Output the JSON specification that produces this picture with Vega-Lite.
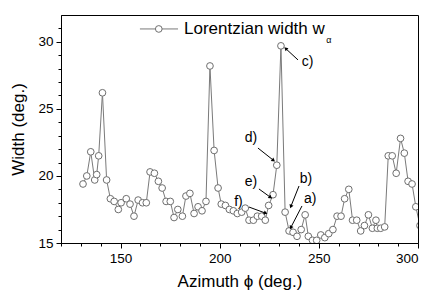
{
  "$schema": "https://vega.github.io/schema/vega-lite/v6.json",
  "width": 357,
  "height": 228,
  "autosize": "none",
  "padding": {"left": 61, "top": 15, "right": 18, "bottom": 62},
  "config": {
    "view": {"stroke": "black", "strokeWidth": 1},
    "font": "Liberation Sans",
    "axis": {"grid": false, "domainColor": "black", "tickColor": "black", "labelColor": "black", "titleColor": "black", "titleFontWeight": "normal", "labelFont": "Liberation Sans", "titleFont": "Liberation Sans"}
  },
  "datasets": {
    "width": [
      {"az": 131.1, "w": 19.4}, {"az": 133.0, "w": 20.0}, {"az": 135.0, "w": 21.8}, {"az": 137.0, "w": 19.7},
      {"az": 138.0, "w": 20.1}, {"az": 139.0, "w": 21.5}, {"az": 140.9, "w": 26.2}, {"az": 143.0, "w": 19.7},
      {"az": 144.9, "w": 18.3}, {"az": 146.8, "w": 18.1}, {"az": 148.9, "w": 17.5}, {"az": 150.3, "w": 18.0},
      {"az": 152.9, "w": 18.3}, {"az": 154.8, "w": 17.9}, {"az": 156.8, "w": 17.0}, {"az": 158.9, "w": 18.2},
      {"az": 161.1, "w": 18.0}, {"az": 163.0, "w": 18.0}, {"az": 164.9, "w": 20.3}, {"az": 167.1, "w": 20.2},
      {"az": 169.1, "w": 19.6}, {"az": 171.0, "w": 19.1}, {"az": 173.0, "w": 18.1}, {"az": 175.1, "w": 18.1},
      {"az": 177.0, "w": 16.9}, {"az": 178.9, "w": 17.5}, {"az": 181.2, "w": 17.0}, {"az": 183.0, "w": 18.5},
      {"az": 185.0, "w": 18.7}, {"az": 187.1, "w": 17.2}, {"az": 189.1, "w": 17.7}, {"az": 191.1, "w": 17.4},
      {"az": 193.1, "w": 18.1}, {"az": 195.1, "w": 28.2}, {"az": 197.2, "w": 21.9}, {"az": 199.2, "w": 19.1},
      {"az": 200.8, "w": 17.9}, {"az": 202.9, "w": 17.8}, {"az": 204.9, "w": 17.5}, {"az": 206.9, "w": 17.4},
      {"az": 208.9, "w": 17.2}, {"az": 211.1, "w": 17.3}, {"az": 212.9, "w": 17.6}, {"az": 214.8, "w": 16.7},
      {"az": 217.0, "w": 16.7}, {"az": 219.0, "w": 17.0}, {"az": 221.2, "w": 17.0}, {"az": 223.0, "w": 16.7},
      {"az": 224.7, "w": 17.8}, {"az": 226.9, "w": 18.6}, {"az": 228.8, "w": 20.8}, {"az": 230.9, "w": 29.7},
      {"az": 233.0, "w": 17.3}, {"az": 235.0, "w": 15.9}, {"az": 237.0, "w": 15.8}, {"az": 239.0, "w": 15.5},
      {"az": 241.1, "w": 16.0}, {"az": 243.1, "w": 17.1}, {"az": 244.7, "w": 15.5}, {"az": 246.8, "w": 15.2},
      {"az": 248.9, "w": 15.2}, {"az": 251.0, "w": 15.6}, {"az": 253.0, "w": 15.4}, {"az": 255.0, "w": 15.7},
      {"az": 257.1, "w": 16.0}, {"az": 259.2, "w": 17.0}, {"az": 261.2, "w": 17.0}, {"az": 263.0, "w": 18.3},
      {"az": 265.1, "w": 19.0}, {"az": 267.0, "w": 16.7}, {"az": 269.1, "w": 16.7}, {"az": 271.1, "w": 15.9},
      {"az": 273.0, "w": 16.3}, {"az": 275.0, "w": 17.1}, {"az": 277.0, "w": 16.1}, {"az": 278.8, "w": 16.7},
      {"az": 279.5, "w": 16.1}, {"az": 281.2, "w": 16.1}, {"az": 283.2, "w": 16.2}, {"az": 285.0, "w": 21.5},
      {"az": 287.0, "w": 21.5}, {"az": 289.0, "w": 20.2}, {"az": 291.2, "w": 22.8}, {"az": 293.1, "w": 21.7},
      {"az": 295.0, "w": 19.6}, {"az": 297.0, "w": 19.4}, {"az": 298.9, "w": 17.7}, {"az": 301.0, "w": 16.3}
    ],
    "notes": [
      {"label": "a)", "tx": 245.6, "ty": 18.28, "ax": 241.5, "ay": 17.76, "bx": 236.0, "by": 16.19},
      {"label": "b)", "tx": 243.5, "ty": 19.77, "ax": 240.0, "ay": 19.25, "bx": 236.0, "by": 17.76},
      {"label": "c)", "tx": 244.3, "ty": 28.5, "ax": 239.5, "ay": 28.65, "bx": 233.5, "by": 29.47},
      {"label": "d)", "tx": 215.8, "ty": 22.83, "ax": 219.3, "ay": 22.08, "bx": 226.9, "by": 21.19},
      {"label": "e)", "tx": 215.8, "ty": 19.55, "ax": 219.8, "ay": 19.03, "bx": 225.4, "by": 18.43},
      {"label": "f)", "tx": 209.5, "ty": 18.06, "ax": 214.8, "ay": 17.68, "bx": 222.9, "by": 17.24}
    ],
    "legendLine": [{"x": 159.8, "x2": 179.0, "y": 30.96}],
    "legendPoint": [{"x": 169.3, "y": 30.96}],
    "legendText": [{"x": 182.0, "y": 30.96, "t": "Lorentzian width w"}],
    "legendSub": [{"x": 253.8, "y": 30.1, "t": "α"}]
  },
  "resolve": {"axis": {"x": "independent", "y": "independent"}},
  "layer": [
    {
      "data": {"name": "width"},
      "mark": {"type": "line", "color": "#7a7a7a", "strokeWidth": 1, "clip": true},
      "encoding": {
        "x": {"field": "az", "type": "quantitative", "scale": {"domain": [120, 300], "nice": false, "zero": false},
              "axis": {"orient": "bottom", "values": [150, 200, 250, 300], "tickSize": 5, "labelFontSize": 13.5, "labelPadding": 3, "title": "Azimuth ϕ (deg.)", "titleFontSize": 17, "titlePadding": 9}},
        "y": {"field": "w", "type": "quantitative", "scale": {"domain": [15, 32], "nice": false, "zero": false},
              "axis": {"orient": "left", "values": [15, 20, 25, 30], "tickSize": 5, "labelFontSize": 13.5, "labelPadding": 3, "title": "Width (deg.)", "titleFontSize": 17, "titlePadding": 10}}
      }
    },
    {
      "data": {"name": "width"},
      "mark": {"type": "point", "shape": "circle", "filled": true, "fill": "white", "stroke": "#6e6e6e", "strokeWidth": 1, "size": 45, "opacity": 1, "clip": true},
      "encoding": {
        "x": {"field": "az", "type": "quantitative",
              "axis": {"orient": "bottom", "values": [120, 130, 140, 160, 170, 180, 190, 210, 220, 230, 240, 260, 270, 280, 290], "tickSize": 3, "labels": false, "domain": false, "title": null}},
        "y": {"field": "w", "type": "quantitative",
              "axis": {"orient": "left", "values": [16, 17, 18, 19, 21, 22, 23, 24, 26, 27, 28, 29, 31], "tickSize": 3, "labels": false, "domain": false, "title": null}}
      }
    },
    {
      "data": {"name": "notes"},
      "mark": {"type": "rule", "color": "black", "strokeWidth": 1},
      "encoding": {
        "x": {"field": "ax", "type": "quantitative", "axis": null},
        "y": {"field": "ay", "type": "quantitative", "axis": null},
        "x2": {"field": "bx"},
        "y2": {"field": "by"}
      }
    },
    {
      "data": {"name": "notes"},
      "transform": [{"calculate": "atan2((datum.bx - datum.ax) * 1.983, (datum.by - datum.ay) * 13.41) * 180 / PI", "as": "ang"}],
      "mark": {"type": "point", "shape": "triangle", "filled": true, "color": "black", "size": 18, "opacity": 1},
      "encoding": {
        "x": {"field": "bx", "type": "quantitative", "axis": null},
        "y": {"field": "by", "type": "quantitative", "axis": null},
        "angle": {"field": "ang", "type": "quantitative", "scale": null}
      }
    },
    {
      "data": {"name": "notes"},
      "mark": {"type": "text", "fontSize": 14, "color": "black", "align": "center", "baseline": "middle"},
      "encoding": {
        "x": {"field": "tx", "type": "quantitative", "axis": null},
        "y": {"field": "ty", "type": "quantitative", "axis": null},
        "text": {"field": "label"}
      }
    },
    {
      "data": {"name": "legendLine"},
      "mark": {"type": "rule", "color": "#7a7a7a", "strokeWidth": 1},
      "encoding": {
        "x": {"field": "x", "type": "quantitative", "axis": null},
        "x2": {"field": "x2"},
        "y": {"field": "y", "type": "quantitative", "axis": null}
      }
    },
    {
      "data": {"name": "legendPoint"},
      "mark": {"type": "point", "shape": "circle", "filled": true, "fill": "white", "stroke": "#6e6e6e", "strokeWidth": 1, "size": 45, "opacity": 1},
      "encoding": {
        "x": {"field": "x", "type": "quantitative", "axis": null},
        "y": {"field": "y", "type": "quantitative", "axis": null}
      }
    },
    {
      "data": {"name": "legendText"},
      "mark": {"type": "text", "fontSize": 17, "color": "black", "align": "left", "baseline": "middle"},
      "encoding": {
        "x": {"field": "x", "type": "quantitative", "axis": null},
        "y": {"field": "y", "type": "quantitative", "axis": null},
        "text": {"field": "t"}
      }
    },
    {
      "data": {"name": "legendSub"},
      "mark": {"type": "text", "fontSize": 9, "color": "black", "align": "left", "baseline": "middle"},
      "encoding": {
        "x": {"field": "x", "type": "quantitative", "axis": null},
        "y": {"field": "y", "type": "quantitative", "axis": null},
        "text": {"field": "t"}
      }
    }
  ]
}
